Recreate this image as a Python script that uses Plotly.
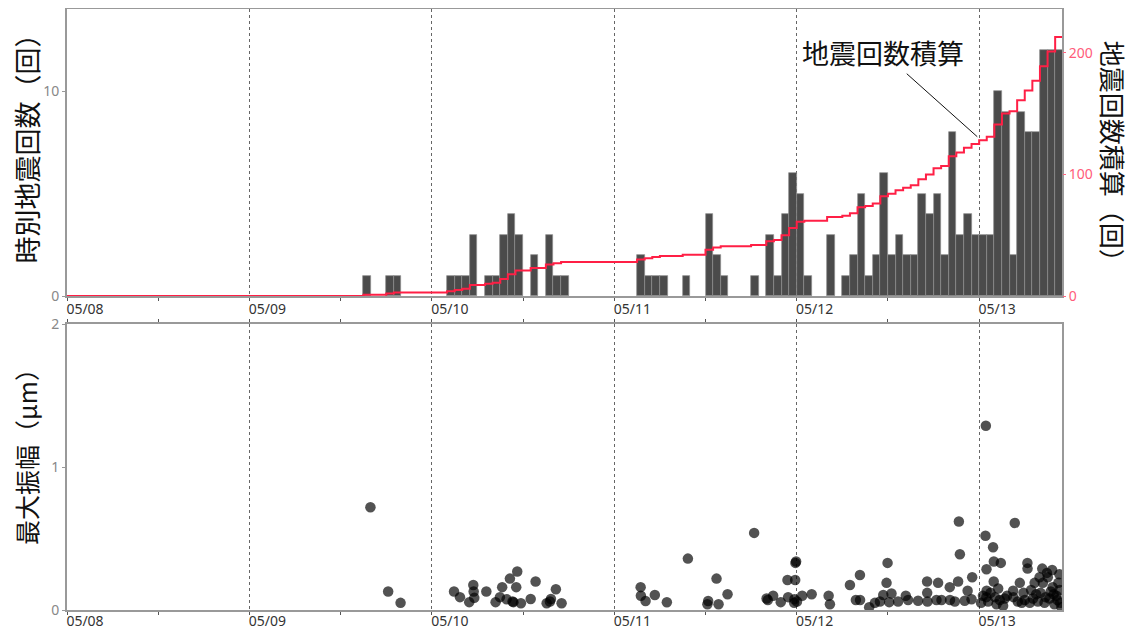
import plotly.graph_objects as go
import pandas as pd
import numpy as np

YEAR = "2025"

# Hourly earthquake counts (hour start "MM-DD HH", count)
bar_hours = [
    "05-09 15", "05-09 18", "05-09 19",
    "05-10 02", "05-10 03", "05-10 04", "05-10 05", "05-10 07", "05-10 08", "05-10 09",
    "05-10 10", "05-10 11", "05-10 13", "05-10 15", "05-10 16", "05-10 17",
    "05-11 03", "05-11 04", "05-11 05", "05-11 06", "05-11 09", "05-11 12", "05-11 13",
    "05-11 14", "05-11 18", "05-11 20", "05-11 21", "05-11 22", "05-11 23",
    "05-12 00", "05-12 01", "05-12 04", "05-12 06", "05-12 07", "05-12 08", "05-12 09",
    "05-12 10", "05-12 11", "05-12 12", "05-12 13", "05-12 14", "05-12 15", "05-12 16",
    "05-12 17", "05-12 18", "05-12 19", "05-12 20", "05-12 21", "05-12 22", "05-12 23",
    "05-13 00", "05-13 01", "05-13 02", "05-13 03", "05-13 04", "05-13 05", "05-13 06",
    "05-13 07", "05-13 08", "05-13 09", "05-13 10",
]
bar_counts = [
    1, 1, 1,
    1, 1, 1, 3, 1, 1, 3,
    4, 3, 2, 3, 1, 1,
    2, 1, 1, 1, 1, 4, 2,
    1, 1, 3, 1, 4, 6,
    5, 1, 3, 1, 2, 5, 1,
    2, 6, 2, 3, 2, 2, 5,
    4, 5, 2, 8, 3, 4, 3,
    3, 3, 10, 9, 2, 9, 8,
    8, 12, 12, 12,
]

# Individual events: time and maximum amplitude (μm)
quake_times = [
    "05-09 15:55", "05-09 18:15", "05-09 19:53",
    "05-10 02:55", "05-10 03:42", "05-10 04:55", "05-10 05:27", "05-10 05:30", "05-10 05:35",
    "05-10 07:10", "05-10 08:23", "05-10 08:57", "05-10 09:15", "05-10 09:50", "05-10 10:16",
    "05-10 10:37", "05-10 10:44", "05-10 11:06", "05-10 11:14", "05-10 11:43", "05-10 13:00",
    "05-10 13:39", "05-10 15:06", "05-10 15:32", "05-10 15:40", "05-10 16:19", "05-10 17:04",
    "05-11 03:28", "05-11 03:30", "05-11 04:07", "05-11 05:20", "05-11 06:55", "05-11 09:41",
    "05-11 12:15", "05-11 12:21", "05-11 13:27", "05-11 13:43", "05-11 14:54", "05-11 18:24",
    "05-11 20:02", "05-11 20:12", "05-11 20:54", "05-11 21:54", "05-11 22:47", "05-11 22:52",
    "05-11 23:40", "05-11 23:42", "05-11 23:48", "05-11 23:50", "05-11 23:55",
    "05-12 00:02", "05-12 00:43", "05-12 01:58", "05-12 04:12", "05-12 04:22", "05-12 07:00",
    "05-12 07:47", "05-12 08:19", "05-12 08:20", "05-12 09:32", "05-12 10:17", "05-12 10:57",
    "05-12 11:23", "05-12 11:49", "05-12 11:57", "05-12 12:10", "05-12 12:28", "05-12 13:20",
    "05-12 14:21", "05-12 14:39", "05-12 15:58", "05-12 17:09", "05-12 17:10", "05-12 17:12",
    "05-12 18:23", "05-12 18:36", "05-12 19:03", "05-12 20:08", "05-12 20:10", "05-12 20:48",
    "05-12 21:14", "05-12 21:20", "05-12 21:28", "05-12 22:06", "05-12 22:29", "05-12 23:00",
    "05-12 23:05",
    "05-13 00:15", "05-13 00:30", "05-13 00:50", "05-13 00:53", "05-13 00:57", "05-13 00:58",
    "05-13 00:59", "05-13 01:11", "05-13 01:30", "05-13 01:50", "05-13 01:55", "05-13 01:56",
    "05-13 02:05", "05-13 02:17", "05-13 02:30", "05-13 02:43", "05-13 02:51", "05-13 03:09",
    "05-13 03:22", "05-13 03:40", "05-13 04:28", "05-13 04:30", "05-13 04:41", "05-13 05:05",
    "05-13 05:21", "05-13 05:36", "05-13 05:50", "05-13 06:00", "05-13 06:21", "05-13 06:22",
    "05-13 06:40", "05-13 06:50", "05-13 07:05", "05-13 07:18", "05-13 07:30", "05-13 07:43",
    "05-13 07:57", "05-13 08:05", "05-13 08:18", "05-13 08:23", "05-13 08:36", "05-13 08:45",
    "05-13 08:55", "05-13 09:02", "05-13 09:15", "05-13 09:25", "05-13 09:36", "05-13 09:40",
    "05-13 09:48", "05-13 09:54", "05-13 10:10", "05-13 10:18", "05-13 10:25", "05-13 10:33",
    "05-13 10:35", "05-13 10:40", "05-13 10:50",
]
quake_amp = [
    0.72, 0.13, 0.05,
    0.13, 0.09, 0.055, 0.175, 0.13, 0.085,
    0.13, 0.055, 0.09, 0.16, 0.075, 0.22,
    0.06, 0.055, 0.16, 0.27, 0.047, 0.077,
    0.20, 0.047, 0.06, 0.077, 0.145, 0.047,
    0.16, 0.10, 0.063, 0.105, 0.054, 0.36,
    0.04, 0.063, 0.22, 0.04, 0.11, 0.54,
    0.08, 0.07, 0.10, 0.055, 0.21, 0.09,
    0.05, 0.075, 0.21, 0.33, 0.34,
    0.06, 0.10, 0.11, 0.10, 0.04, 0.175,
    0.07, 0.245, 0.07, 0.02, 0.05, 0.06,
    0.105, 0.19, 0.33, 0.055, 0.115, 0.06,
    0.10, 0.07, 0.065, 0.20, 0.12, 0.06,
    0.07, 0.19, 0.07, 0.16, 0.07, 0.06,
    0.20, 0.62, 0.39, 0.065, 0.135, 0.075,
    0.23,
    0.05, 0.10, 0.52, 1.29, 0.09, 0.285,
    0.135, 0.06, 0.12, 0.44, 0.20, 0.34,
    0.09, 0.04, 0.15, 0.07, 0.33, 0.03,
    0.08, 0.10, 0.135, 0.09, 0.61, 0.06,
    0.19, 0.05, 0.12, 0.07, 0.33, 0.29,
    0.05, 0.14, 0.08, 0.19, 0.11, 0.06,
    0.23, 0.12, 0.29, 0.19, 0.05, 0.09,
    0.26, 0.23, 0.08, 0.13, 0.28, 0.16,
    0.11, 0.04, 0.10, 0.07, 0.19, 0.25,
    0.14, 0.05, 0.02,
]

x_start = YEAR + "-05-08 00:00"
x_end = YEAR + "-05-13 10:54"

label_left_top = "時別地震回数（回）"
label_right_top = "地震回数積算（回）"
label_left_bottom = "最大振幅（μm）"
callout_text = "地震回数積算"
callout_x = YEAR + "-05-12 23:45"
callout_y = 131

# ---- derived ----
bar_start = pd.to_datetime([YEAR + "-" + h + ":00" for h in bar_hours])
bar_center = bar_start + pd.Timedelta(minutes=30)
cum = np.cumsum(bar_counts)
cum_x = [pd.Timestamp(x_start)] + list(bar_start) + [pd.Timestamp(x_end)]
cum_y = [0] + list(cum) + [int(cum[-1])]
q_x = pd.to_datetime([YEAR + "-" + t for t in quake_times])

CJK = "Noto Sans CJK JP"
TICKFONT = "Noto Sans"

fig = go.Figure()
fig.add_trace(go.Bar(
    x=bar_center, y=bar_counts, width=3600000,
    marker=dict(color="#4b4b4b", line=dict(color="#8c8c8c", width=0.7)),
    xaxis="x", yaxis="y", showlegend=False,
))
fig.add_trace(go.Scatter(
    x=cum_x, y=cum_y, mode="lines", line=dict(color="#ff1f45", width=2, shape="hv"),
    xaxis="x", yaxis="y2", showlegend=False,
))
fig.add_trace(go.Scatter(
    x=q_x, y=quake_amp, mode="markers",
    marker=dict(size=10.5, color="rgba(0,0,0,0.68)", line=dict(width=0)),
    xaxis="x2", yaxis="y3", showlegend=False, cliponaxis=True,
))

def xaxis_style(standoff):
    return dict(
        type="date", range=[x_start, x_end],
        tick0=x_start, dtick=86400000, tickformat="%m/%d",
        ticks="outside", ticklen=3, tickcolor="#555",
        tickfont=dict(family=TICKFONT, size=14, color="#333"),
        ticklabelshift=18, ticklabelstandoff=standoff,
        showgrid=True, gridcolor="#666", griddash="dot", gridwidth=1,
        showline=True, linecolor="#999", linewidth=2, mirror="allticks",
        minor=dict(dtick=43200000, tick0=x_start, ticks="outside", ticklen=3,
                   tickcolor="#555", showgrid=False),
        zeroline=False, automargin=False,
    )

# the page body has an 8px margin, so the figure is sized to fit inside the window
fig.update_layout(
    width=1131, height=622,
    margin=dict(l=59, r=77, t=1, b=20, autoexpand=False),
    plot_bgcolor="white", paper_bgcolor="white",
    bargap=0,
    xaxis=dict(domain=[0, 1], anchor="y", **xaxis_style(-4)),
    xaxis2=dict(domain=[0, 1], anchor="y3", matches="x", **xaxis_style(-6)),
    yaxis=dict(
        domain=[0.5224, 1], range=[0, 14], dtick=10, anchor="x",
        ticks="outside", ticklen=3, tickcolor="#999",
        tickfont=dict(family=TICKFONT, size=14, color="#888"),
        showgrid=False, zeroline=False, automargin=False,
        showline=True, linecolor="#999", linewidth=2, mirror=True,
    ),
    yaxis2=dict(
        overlaying="y", side="right", anchor="x", range=[0, 236], dtick=100,
        ticks="outside", ticklen=3, tickcolor="#ff6680",
        tickfont=dict(family=TICKFONT, size=14, color="#ff5c7a"),
        showgrid=False, zeroline=False, showline=False, automargin=False,
    ),
    yaxis3=dict(
        domain=[0, 0.4751], range=[0, 2], dtick=1, anchor="x2",
        ticks="outside", ticklen=3, tickcolor="#999",
        tickfont=dict(family=TICKFONT, size=14, color="#888"),
        showgrid=False, zeroline=False, automargin=False,
        showline=True, linecolor="#999", linewidth=2, mirror=True,
    ),
)

fig.add_annotation(xref="paper", yref="paper", x=-0.0405, y=0.7790,
                   xanchor="center", yanchor="middle", textangle=-90, showarrow=False,
                   text=label_left_top, font=dict(family=CJK, size=27, color="#111"))
fig.add_annotation(xref="paper", yref="paper", x=1.0513, y=0.7524,
                   xanchor="center", yanchor="middle", textangle=90, showarrow=False,
                   text=label_right_top, font=dict(family=CJK, size=26, color="#111"))
fig.add_annotation(xref="paper", yref="paper", x=-0.0410, y=0.265,
                   xanchor="center", yanchor="middle", textangle=-90, showarrow=False,
                   text=label_left_bottom, font=dict(family=CJK, size=25, color="#111"))
fig.add_annotation(xref="x", yref="y2", x=callout_x, y=callout_y,
                   ax=-94, ay=-84, showarrow=True, arrowhead=0, arrowwidth=1,
                   arrowcolor="#111", standoff=0,
                   text=callout_text, font=dict(family=CJK, size=27, color="#111"))

fig.write_html("out.html")
